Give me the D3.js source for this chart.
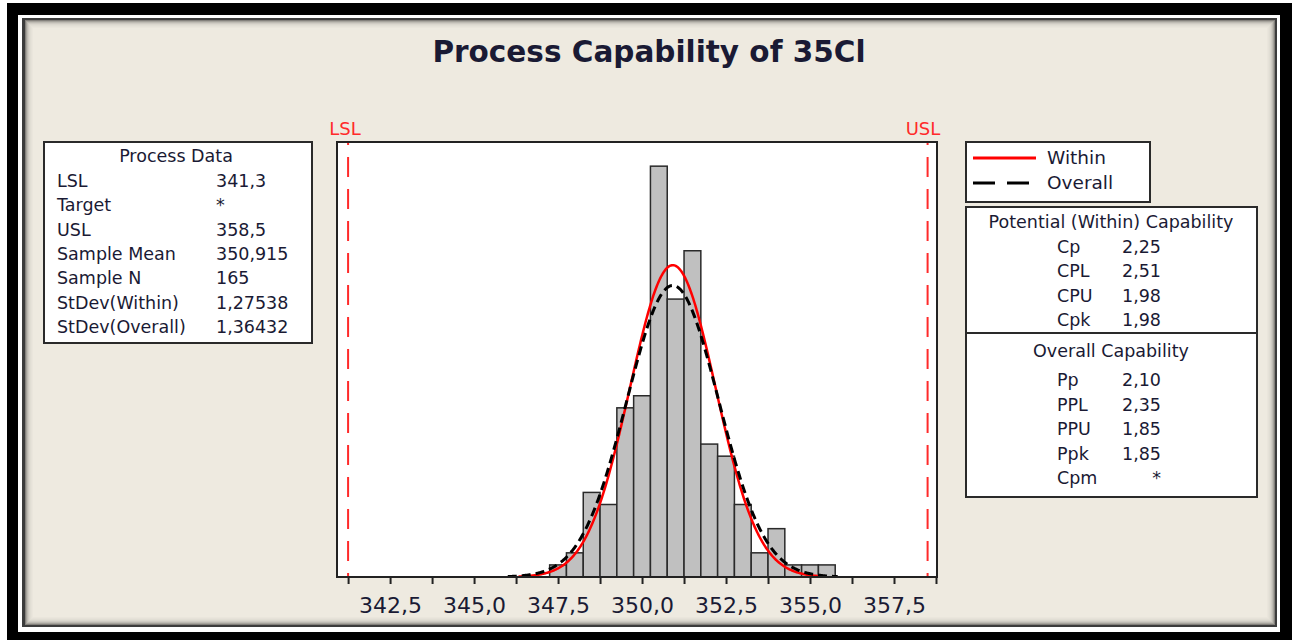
<!DOCTYPE html>
<html>
<head>
<meta charset="utf-8">
<script src="https://cdn.jsdelivr.net/npm/d3@7"></script>
<style>
  html, body { margin: 0; padding: 0; background: #fff; }
  svg { display: block; }
</style>
</head>
<body>
<div id="chart"></div>
<script>

// histogram bins (centre of each 0,5 wide bin) and counts
var binCenters = [347.5, 348.0, 348.5, 349.0, 349.5, 350.0, 350.5, 351.0, 351.5,
                  352.0, 352.5, 353.0, 353.5, 354.0, 354.5, 355.0, 355.5];
var binCounts  = [1, 2, 7, 6, 14, 15, 34, 23, 27, 11, 10, 6, 2, 4, 1, 1, 1];
var binWidth = 0.5;

// spec limits and fitted normal parameters
var lsl = 341.25, usl = 358.5;
var sampleMean = 350.915, sampleN = 165;
var stdevWithin = 1.27538, stdevOverall = 1.36432;

// x axis ticks
var majorTicks  = [342.5, 345.0, 347.5, 350.0, 352.5, 355.0, 357.5];
var majorLabels = ['342,5', '345,0', '347,5', '350,0', '352,5', '355,0', '357,5'];
var minorTicks  = [341.25, 343.75, 346.25, 348.75, 351.25, 353.75, 356.25, 358.75];

// tables
var processLabels = ['LSL', 'Target', 'USL', 'Sample Mean', 'Sample N', 'StDev(Within)', 'StDev(Overall)'];
var processValues = ['341,3', '*', '358,5', '350,915', '165', '1,27538', '1,36432'];
var withinLabels  = ['Cp', 'CPL', 'CPU', 'Cpk'];
var withinValues  = ['2,25', '2,51', '1,98', '1,98'];
var overallLabels = ['Pp', 'PPL', 'PPU', 'Ppk', 'Cpm'];
var overallValues = ['2,10', '2,35', '1,85', '1,85', '*'];
var legendNames   = ['Within', 'Overall'];

var W = 1292, H = 640;
var FONT = '"DejaVu Sans", Verdana, sans-serif';
var INK = '#1a1a34';

var svg = d3.select('#chart')
            .append('svg')
            .attr('width', W)
            .attr('height', H);

// frame: white page, black band, white gap, dark line, beige panel
svg.append('rect').attr('width', W).attr('height', H).attr('fill', '#fff');
svg.append('rect').attr('x', 7).attr('y', 3).attr('width', W - 7).attr('height', H - 3).attr('fill', '#000');
svg.append('rect').attr('x', 18).attr('y', 15).attr('width', 1262).attr('height', 617).attr('fill', '#fff');
svg.append('rect').attr('x', 22).attr('y', 18).attr('width', 1255).attr('height', 609).attr('fill', '#3c3c3c');

var panel = {x: 25, y: 20, w: 1250, h: 605};
svg.append('rect')
   .attr('x', panel.x).attr('y', panel.y)
   .attr('width', panel.w).attr('height', panel.h)
   .attr('fill', '#eeeae0');

// inner shadow of the panel
[0.45, 0.3, 0.2, 0.13, 0.08, 0.05, 0.03, 0.015].forEach(function(a, i) {
  svg.append('rect')
     .attr('x', panel.x + i + 0.5).attr('y', panel.y + i + 0.5)
     .attr('width', panel.w - 2 * i - 1).attr('height', panel.h - 2 * i - 1)
     .attr('fill', 'none')
     .attr('stroke', 'rgba(0,0,0,' + a + ')');
});

// title
svg.append('text')
   .attr('x', 649).attr('y', 62)
   .attr('text-anchor', 'middle')
   .attr('font-family', FONT)
   .attr('font-weight', 'bold')
   .attr('font-size', 29.5)
   .attr('fill', INK)
   .text('Process Capability of 35Cl');

// plot area
var plot = {left: 337, right: 937, top: 142, bottom: 577};

var x = d3.scaleLinear()
          .domain([340.92, 358.78])
          .range([plot.left, plot.right]);

var y = d3.scaleLinear()
          .domain([0, 36])
          .range([plot.bottom, plot.top]);

svg.append('rect')
   .attr('x', plot.left).attr('y', plot.top)
   .attr('width', plot.right - plot.left).attr('height', plot.bottom - plot.top)
   .attr('fill', '#fff');

svg.append('clipPath').attr('id', 'plotclip')
   .append('rect')
   .attr('x', plot.left).attr('y', plot.top)
   .attr('width', plot.right - plot.left).attr('height', plot.bottom - plot.top);

var g = svg.append('g').attr('clip-path', 'url(#plotclip)');

// bars
g.selectAll('rect.bar')
 .data(binCenters)
 .enter()
 .append('rect')
 .attr('class', 'bar')
 .attr('x', function(d) { return x(d - binWidth / 2); })
 .attr('width', function(d) { return x(d + binWidth / 2) - x(d - binWidth / 2); })
 .attr('y', function(d, i) { return y(binCounts[i]); })
 .attr('height', function(d, i) { return y(0) - y(binCounts[i]); })
 .attr('fill', '#c0c0c0')
 .attr('stroke', '#2a2a2a')
 .attr('stroke-width', 1.5);

// fitted normal curves, scaled to counts
function normalCurve(sd) {
  var scale = sampleN * binWidth;
  return d3.range(sampleMean - 3.6 * sd, sampleMean + 3.6 * sd, 0.02).map(function(v) {
    var z = (v - sampleMean) / sd;
    return [v, scale * Math.exp(-0.5 * z * z) / (sd * Math.sqrt(2 * Math.PI))];
  });
}

var line = d3.line()
             .x(function(d) { return x(d[0]); })
             .y(function(d) { return y(d[1]); });

g.append('path')
 .datum(normalCurve(stdevWithin))
 .attr('d', line)
 .attr('fill', 'none')
 .attr('stroke', '#ff0000')
 .attr('stroke-width', 2.5);

g.append('path')
 .datum(normalCurve(stdevOverall))
 .attr('d', line)
 .attr('fill', 'none')
 .attr('stroke', '#000')
 .attr('stroke-width', 3)
 .attr('stroke-dasharray', '9,5');

// spec limit lines
[lsl, usl].forEach(function(v) {
  g.append('line')
   .attr('x1', x(v)).attr('x2', x(v))
   .attr('y1', plot.top).attr('y2', plot.bottom)
   .attr('stroke', '#ff2a2a')
   .attr('stroke-width', 2)
   .attr('stroke-dasharray', '20,12')
   .attr('stroke-dashoffset', 17);
});

[['LSL', 345], ['USL', 923]].forEach(function(d) {
  svg.append('text')
     .attr('x', d[1]).attr('y', 135)
     .attr('text-anchor', 'middle')
     .attr('font-family', FONT)
     .attr('font-size', 18)
     .attr('fill', '#ff2a2a')
     .text(d[0]);
});

// frame of plot
svg.append('rect')
   .attr('x', plot.left).attr('y', plot.top)
   .attr('width', plot.right - plot.left).attr('height', plot.bottom - plot.top)
   .attr('fill', 'none')
   .attr('stroke', '#222')
   .attr('stroke-width', 2);

// x axis
var allTicks = majorTicks.concat(minorTicks).sort(d3.ascending);
var xAxis = d3.axisBottom(x)
              .tickValues(allTicks)
              .tickSize(7)
              .tickSizeOuter(0)
              .tickPadding(13)
              .tickFormat(function(d) {
                var i = majorTicks.indexOf(d);
                return i < 0 ? '' : majorLabels[i];
              });

var ax = svg.append('g')
            .attr('transform', 'translate(0,' + plot.bottom + ')')
            .call(xAxis);
ax.select('.domain').remove();
ax.selectAll('line').attr('stroke', '#222').attr('stroke-width', 2);
ax.selectAll('text')
  .attr('font-family', FONT)
  .attr('font-size', 22)
  .attr('fill', INK);

// helper for boxed tables
function box(x0, y0, w, h) {
  return svg.append('rect')
            .attr('x', x0).attr('y', y0)
            .attr('width', w).attr('height', h)
            .attr('fill', '#fff')
            .attr('stroke', '#2a2a2a')
            .attr('stroke-width', 2);
}

function label(x0, y0, s, anchor, size) {
  return svg.append('text')
            .attr('x', x0).attr('y', y0)
            .attr('text-anchor', anchor || 'start')
            .attr('font-family', FONT)
            .attr('font-size', size || 17.5)
            .attr('fill', INK)
            .text(s);
}

// process data
box(44, 142, 268, 201);
label(176, 162, 'Process Data', 'middle');
processLabels.forEach(function(s, i) {
  label(57, 187 + i * 24.3, s);
  label(216, 187 + i * 24.3, processValues[i]);
});

// legend
box(966, 142, 184, 60);
svg.append('line')
   .attr('x1', 973).attr('x2', 1036).attr('y1', 158).attr('y2', 158)
   .attr('stroke', '#ff0000').attr('stroke-width', 3);
svg.append('line')
   .attr('x1', 973).attr('x2', 1036).attr('y1', 183).attr('y2', 183)
   .attr('stroke', '#000').attr('stroke-width', 3)
   .attr('stroke-dasharray', '22,12');
legendNames.forEach(function(s, i) {
  label(1047, 164 + i * 25, s, 'start', 18.5);
});

// capability tables
box(966, 207, 291, 290);
svg.append('line')
   .attr('x1', 966).attr('x2', 1257).attr('y1', 333).attr('y2', 333)
   .attr('stroke', '#2a2a2a').attr('stroke-width', 2);

label(1111, 228, 'Potential (Within) Capability', 'middle');
withinLabels.forEach(function(s, i) {
  label(1057, 253 + i * 24.3, s);
  label(1161, 253 + i * 24.3, withinValues[i], 'end');
});

label(1111, 357, 'Overall Capability', 'middle');
overallLabels.forEach(function(s, i) {
  label(1057, 386 + i * 24.5, s);
  label(1161, 386 + i * 24.5, overallValues[i], 'end');
});

</script>
</body>
</html>
